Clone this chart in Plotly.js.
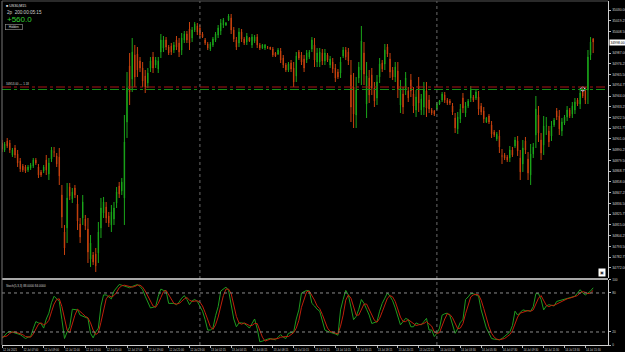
<!DOCTYPE html>
<html>
<head>
<meta charset="utf-8">
<script src="https://cdn.plot.ly/plotly-3.0.1.min.js"></script>
<style>html,body{margin:0;padding:0;background:#000;}#chart{width:625px;height:352px;}</style>
</head>
<body>
<div id="chart"></div>
<script>
// ---- price data (US30, M15) ----
const openP = [
34897,34890,34899,34897,34885,34892,34886,34879,34874,34873,
34870,34872,34874,34880,34873,34868,34869,34880,34866,34881,
34888,34884,34883,34845,34808,34812,34853,34841,34852,34836,
34816,34822,34821,34811,34781,34785,34786,34787,34812,34827,
34833,34824,34815,34821,34837,34854,34849,34842,34918,34974,
34961,34985,34986,34979,34972,34964,34957,34972,34983,34975,
34971,34988,34992,35000,34993,34994,34990,35000,34997,34990,
35000,35006,35011,35002,35010,35014,35012,35006,35000,34996,
34991,34995,35000,35005,35009,35015,35015,35020,35022,35010,
35000,34997,35008,35001,34998,35002,34995,34999,35003,34995,
34992,34992,34993,34993,34991,34987,34986,34989,34982,34975,
34970,34977,34972,34964,34988,34985,34981,34980,34983,34991,
34995,34978,34978,34987,34979,34985,34975,34978,34972,34968,
34967,34984,34990,34988,34965,34953,34925,34962,34970,34987,
34936,34962,34965,34952,34942,34963,34977,34976,34993,34981,
34970,34963,34969,34935,34946,34951,34949,34960,34946,34930,
34954,34930,34933,34949,34940,34930,34929,34931,34936,34940,
34945,34940,34939,34934,34922,34911,34921,34942,34927,34934,
34942,34943,34942,34943,34934,34929,34918,34924,34915,34908,
34901,34904,34884,34885,34883,34882,34890,34894,34899,34882,
34876,34899,34881,34865,34886,34905,34925,34900,34895,34914,
34909,34904,34915,34929,34924,34909,34917,34923,34930,34926,
34930,34940,34936,34950,34949,34950,34985,35001];
const highP = [
34900,34898,34902,34900,34892,34895,34890,34882,34876,34875,
34875,34877,34882,34882,34876,34870,34875,34885,34882,34893,
34893,34887,34892,34855,34815,34857,34857,34852,34855,34845,
34822,34845,34825,34822,34805,34788,34792,34818,34842,34843,
34838,34828,34835,34838,34853,34858,34862,34925,34968,34987,
35002,34995,34993,34983,34978,34970,34972,34983,34988,34983,
34983,35006,35004,35003,34995,34997,34998,35004,35002,35007,
35009,35009,35018,35013,35018,35017,35015,35008,35002,34998,
34998,35003,35008,35015,35021,35022,35018,35026,35026,35013,
35003,35012,35011,35003,35007,35003,35006,35005,35006,34997,
34996,34996,34994,34993,34993,34988,34992,34992,34985,34977,
34978,34980,34978,34988,34990,34988,34985,34990,34990,35003,
35002,34992,34992,34991,34991,34987,34984,34982,34976,34971,
34983,34993,34993,34992,34980,34967,34963,34978,35014,34998,
34978,34970,34972,34958,34965,34982,34980,34996,34996,34987,
34973,34978,34978,34960,34953,34968,34953,34966,34953,34950,
34963,34946,34958,34958,34945,34932,34930,34938,34940,34948,
34948,34942,34941,34937,34927,34928,34936,34947,34938,34941,
34954,34945,34950,34949,34937,34933,34923,34926,34919,34910,
34908,34910,34891,34887,34885,34894,34893,34903,34904,34890,
34900,34903,34888,34896,34897,34944,34934,34907,34924,34923,
34914,34919,34922,34932,34930,34922,34925,34934,34932,34938,
34942,34942,34952,34952,34953,34990,35003,35002];
const lowP = [
34888,34888,34892,34887,34883,34882,34873,34868,34868,34867,
34868,34870,34872,34875,34862,34863,34867,34865,34860,34878,
34883,34873,34855,34812,34785,34797,34840,34837,34842,34810,
34797,34815,34810,34777,34773,34775,34768,34777,34802,34822,
34817,34813,34808,34815,34832,34842,34845,34815,34902,34935,
34948,34953,34963,34968,34953,34947,34952,34968,34967,34972,
34967,34982,34988,34990,34985,34985,34987,34990,34983,34985,
34997,34997,34990,34998,35008,35005,35002,35002,34995,34990,
34989,34993,34998,35002,35005,35012,35014,35019,35006,34998,
34990,34993,34998,34995,34995,34998,34992,34997,34992,34990,
34991,34990,34991,34990,34983,34983,34985,34977,34972,34968,
34968,34968,34953,34958,34980,34975,34968,34977,34981,34988,
34973,34973,34973,34975,34975,34978,34972,34967,34958,34961,
34962,34982,34980,34975,34918,34912,34912,34957,34955,34955,
34922,34937,34945,34933,34935,34957,34968,34970,34983,34962,
34960,34958,34942,34927,34926,34945,34938,34943,34927,34923,
34928,34925,34925,34923,34927,34925,34924,34930,34935,34938,
34937,34935,34935,34925,34907,34906,34917,34927,34923,34932,
34938,34938,34940,34925,34925,34917,34917,34916,34902,34903,
34899,34887,34876,34880,34878,34878,34883,34892,34884,34860,
34868,34886,34860,34855,34882,34892,34898,34880,34885,34905,
34893,34899,34913,34920,34905,34904,34915,34919,34922,34922,
34926,34934,34931,34942,34936,34936,34980,34987];
const closeP = [
34891,34896,34894,34890,34890,34885,34877,34871,34870,34869,
34873,34875,34880,34877,34865,34865,34873,34870,34877,34890,
34888,34876,34864,34823,34792,34842,34844,34848,34845,34819,
34803,34838,34814,34788,34797,34778,34774,34808,34832,34838,
34822,34817,34828,34832,34848,34846,34858,34898,34952,34948,
34988,34963,34970,34972,34959,34953,34967,34979,34972,34980,
34979,35000,35000,34993,34987,34988,34995,34993,34988,35002,
35006,35000,34997,35010,35016,35008,35005,35003,34997,34992,
34996,35001,35006,35012,35017,35020,35017,35024,35010,35001,
34993,35008,35001,34997,35004,34999,35003,35003,34995,34992,
34995,34995,34993,34991,34985,34984,34990,34980,34975,34970,
34976,34971,34958,34984,34982,34978,34972,34987,34988,35000,
34980,34987,34988,34979,34987,34980,34981,34971,34962,34963,
34978,34990,34983,34979,34933,34926,34950,34973,34999,34966,
34964,34945,34952,34939,34958,34976,34971,34990,34986,34968,
34963,34973,34951,34952,34933,34962,34942,34949,34934,34943,
34937,34941,34950,34932,34931,34927,34926,34936,34939,34946,
34940,34937,34937,34928,34912,34923,34931,34932,34934,34939,
34950,34940,34948,34931,34928,34921,34922,34918,34906,34905,
34906,34893,34884,34882,34880,34890,34885,34900,34889,34868,
34892,34890,34867,34886,34893,34931,34907,34887,34914,34914,
34898,34914,34920,34923,34911,34918,34923,34930,34924,34934,
34938,34936,34947,34944,34940,34983,34998,34998];

// ---- Stochastic (5,3,3) ----
const stochK = [
10,14,19,21,20,19,18,16,13,10,
12,13,25,36,34,33,26,40,49,65,
75,71,67,39,10,20,28,55,55,54,
46,44,42,41,18,11,20,26,60,77,
77,74,71,83,88,93,92,91,90,88,
90,92,93,90,85,75,66,57,58,59,
75,86,84,83,64,64,64,62,66,72,
76,70,62,68,70,67,60,52,39,23,
23,26,45,59,83,86,89,84,64,40,
28,34,34,33,30,26,33,40,25,5,
6,8,9,10,9,8,12,16,12,10,
18,19,20,40,54,80,82,84,83,64,
60,55,52,35,23,21,20,18,17,15,
54,70,84,77,55,39,44,55,70,64,
55,46,33,35,36,52,64,72,80,75,
68,57,42,31,36,41,39,28,28,34,
32,31,36,41,23,23,13,18,26,46,
48,49,45,33,18,25,35,39,70,74,
79,79,77,75,54,40,26,18,10,9,
8,8,10,13,16,20,30,52,46,50,
54,53,52,52,59,79,79,70,54,60,
62,61,60,67,68,70,71,72,73,74,
75,80,85,80,77,80,83,88];
const stochD = [
12,13,14,18,20,20,19,18,16,13,
12,12,17,25,32,34,31,33,38,51,
63,70,71,59,39,23,19,34,46,55,
52,48,44,42,34,23,16,19,35,54,
71,76,74,76,81,88,91,92,91,90,
89,90,92,92,89,83,75,66,60,58,
64,73,82,84,77,70,64,63,64,67,
71,73,69,67,67,68,66,60,50,38,
28,24,31,43,62,76,86,86,79,63,
44,34,32,34,32,30,30,33,33,23,
12,6,8,9,9,9,10,12,13,13,
13,16,19,26,38,58,72,82,83,77,
69,60,56,47,37,26,21,20,18,17,
29,46,69,77,72,57,46,46,56,63,
63,55,45,38,35,41,51,63,72,76,
74,67,56,43,36,36,39,36,32,30,
31,32,33,36,33,29,20,18,19,30,
40,48,47,42,32,25,26,33,48,61,
74,77,78,77,69,56,40,28,18,12,
9,8,9,10,13,16,22,34,43,49,
50,52,53,52,54,63,72,76,68,61,
59,61,61,63,65,68,70,71,72,73,
74,76,80,82,81,79,80,84];
const stochLevels = [20, 80];

// ---- axis labels ----
const priceTicks = [35030.00,35019.25,35008.50,34987.00,34976.25,34965.50,34954.75,34944.00,34933.25,34922.50,
34911.75,34901.00,34890.25,34879.50,34868.75,34858.00,34847.25,34836.50,34825.75,34815.00,34804.25,34793.50,34782.75,34772.00];
const timeTickBars = [0,8,16,24,32,40,48,56,64,72,80,88,96,104,112,120,128,136,144,152,160,168,176,184,192,200,208,216,224];
const timeTickLabels = ["12 Jul 2021","12 Jul 07:00","12 Jul 09:00","12 Jul 11:00","12 Jul 13:00","12 Jul 15:00","12 Jul 17:00","12 Jul 19:00","12 Jul 21:00","12 Jul 23:00",
"13 Jul 02:15","13 Jul 04:15","13 Jul 06:15","13 Jul 08:15","13 Jul 10:15","13 Jul 12:15","13 Jul 14:15","13 Jul 16:15","13 Jul 18:15","13 Jul 20:15","13 Jul 22:15",
"14 Jul 01:30","14 Jul 03:30","14 Jul 05:30","14 Jul 07:30","14 Jul 09:30","14 Jul 11:30","14 Jul 13:30","14 Jul 15:30"];
const daySeparatorBars = [76, 167];
const levelLineA = 34953;   // red dash-dot
const levelLineB = 34950.5; // green dash-dot
const markerBar = [223];
const markerPrice = [34951];
const profitText = "+560.0";

const idx = closeP.map((_, i) => i);
const lastClose = closeP[closeP.length - 1];
const lastK = stochK[stochK.length - 1], lastD = stochD[stochD.length - 1];

const GREEN = '#1aa61a', RED = '#c8420e';
const FONT = 'Liberation Sans, DejaVu Sans, sans-serif';

const traces = [
  {
    type: 'candlestick', x: idx, open: openP, high: highP, low: lowP, close: closeP,
    xaxis: 'x', yaxis: 'y', whiskerwidth: 0,
    increasing: {line: {color: GREEN, width: 1}, fillcolor: GREEN},
    decreasing: {line: {color: RED, width: 1}, fillcolor: RED},
    hoverinfo: 'skip'
  },
  {
    type: 'scatter', mode: 'markers', x: markerBar, y: markerPrice, xaxis: 'x', yaxis: 'y',
    marker: {symbol: 'circle-open', size: 4, color: '#b8d8ff', line: {width: 1}}, hoverinfo: 'skip'
  },
  {
    type: 'scatter', mode: 'lines', x: idx, y: stochK, xaxis: 'x', yaxis: 'y2',
    line: {color: '#1f9a1f', width: 1}, hoverinfo: 'skip'
  },
  {
    type: 'scatter', mode: 'lines', x: idx, y: stochD, xaxis: 'x', yaxis: 'y2',
    line: {color: '#c0200c', width: 1}, hoverinfo: 'skip'
  }
];

const shapes = [];
daySeparatorBars.forEach(b => shapes.push({type: 'line', xref: 'x', yref: 'paper', x0: b, x1: b, y0: 0, y1: 1,
  line: {color: '#6a6a6a', width: 1, dash: 'dot'}}));
shapes.push({type: 'line', xref: 'paper', yref: 'y', x0: 0, x1: 1, y0: levelLineA, y1: levelLineA, line: {color: '#a81414', width: 1, dash: 'dashdot'}});
shapes.push({type: 'line', xref: 'paper', yref: 'y', x0: 0, x1: 1, y0: levelLineB, y1: levelLineB, line: {color: '#168c16', width: 1, dash: 'dashdot'}});
stochLevels.forEach(v => shapes.push({type: 'line', xref: 'paper', yref: 'y2', x0: 0, x1: 1, y0: v, y1: v,
  line: {color: '#8a8a8a', width: 1, dash: 'dot'}}));
shapes.push({type: 'line', xref: 'paper', yref: 'paper', x0: 0, x1: 1, y0: 0.1919, y1: 0.1919, line: {color: '#e0e0e0', width: 1.6}});
shapes.push({type: 'line', xref: 'paper', yref: 'paper', x0: 0, x1: 0, y0: 0, y1: 1, line: {color: '#777', width: 1}});
shapes.push({type: 'line', xref: 'paper', yref: 'paper', x0: 0, x1: 1, y0: 1, y1: 1, line: {color: '#555', width: 1}});

const annotations = [
  {xref: 'paper', yref: 'paper', x: 0, y: 1, xanchor: 'left', yanchor: 'top', xshift: 2, yshift: -1,
   text: '\u25A0 US30,M15', showarrow: false, font: {family: FONT, size: 3.6, color: '#e0e0e0'}},
  {xref: 'paper', yref: 'paper', x: 0, y: 1, xanchor: 'left', yanchor: 'top', xshift: 3, yshift: -7,
   text: '2p  200:00:05:15', showarrow: false, font: {family: FONT, size: 4.6, color: '#cfcfcf'}},
  {xref: 'paper', yref: 'paper', x: 0, y: 1, xanchor: 'left', yanchor: 'top', xshift: 3, yshift: -12,
   text: profitText, showarrow: false, font: {family: FONT, size: 8, color: '#33d233'}},
  {xref: 'paper', yref: 'paper', x: 0, y: 1, xanchor: 'left', yanchor: 'top', xshift: 3, yshift: -23,
   text: '   Hidden   ', showarrow: false, bordercolor: '#9a9a9a', borderwidth: 0.6, borderpad: 0.5,
   font: {family: FONT, size: 3.2, color: '#dcdcdc'}},
  {xref: 'paper', yref: 'y', x: 0, y: levelLineA, xanchor: 'left', yanchor: 'bottom', xshift: 2, yshift: -1,
   text: levelLineA.toFixed(2) + ' \u2014 1.18', showarrow: false, font: {family: FONT, size: 3, color: '#d0d0d0'}},
  {xref: 'paper', yref: 'y', x: 1, y: lastClose, xanchor: 'left', yanchor: 'middle', xshift: 1,
   text: lastClose.toFixed(2), showarrow: false, bgcolor: '#ffffff', borderpad: 0.5,
   font: {family: FONT, size: 3.4, color: '#000'}},
  {xref: 'paper', yref: 'paper', x: 0, y: 0.189, xanchor: 'left', yanchor: 'top', xshift: 2, yshift: -2,
   text: 'Stoch(5,3,3) ' + lastK.toFixed(4) + ' ' + lastD.toFixed(4), showarrow: false,
   font: {family: FONT, size: 3, color: '#d0d0d0'}},
  {xref: 'paper', yref: 'paper', x: 1, y: 0.1919, xanchor: 'right', yanchor: 'bottom', xshift: -2, yshift: 2,
   text: '\u25A3', showarrow: false, bgcolor: '#ffffff', font: {family: FONT, size: 4, color: '#333'}}
];

const layout = {
  width: 625, height: 352,
  margin: {l: 2, r: 17, t: 1, b: 7, pad: 0},
  paper_bgcolor: '#000', plot_bgcolor: '#000',
  showlegend: false, hovermode: false, boxgap: 0.75,
  xaxis: {
    range: [0, 232.7], anchor: 'y2', showgrid: false, zeroline: false,
    rangeslider: {visible: false},
    tickmode: 'array', tickvals: timeTickBars, ticktext: timeTickLabels,
    ticks: 'outside', ticklen: 1.5, tickcolor: '#bbb', ticklabelshift: 8, ticklabelstandoff: 0,
    tickfont: {family: FONT, size: 2.7, color: '#d0d0d0'},
    showline: true, linecolor: '#cfcfcf', linewidth: 1
  },
  yaxis: {
    domain: [0.1948, 1], range: [34762, 35039], side: 'right', anchor: 'x',
    showgrid: false, zeroline: false,
    tickmode: 'array', tickvals: priceTicks, ticktext: priceTicks.map(v => v.toFixed(2)),
    ticks: 'outside', ticklen: 1.5, tickcolor: '#bbb', ticklabelstandoff: 1,
    tickfont: {family: FONT, size: 3.4, color: '#d0d0d0'},
    showline: true, linecolor: '#cfcfcf', linewidth: 1
  },
  yaxis2: {
    domain: [0, 0.189], range: [0, 100], side: 'right', anchor: 'x',
    showgrid: false, zeroline: false,
    tickmode: 'array', tickvals: [0, 20, 80, 100], ticktext: ['0', '20', '80', '100'],
    ticks: 'outside', ticklen: 1.5, tickcolor: '#bbb', ticklabelstandoff: 1,
    tickfont: {family: FONT, size: 3.2, color: '#d0d0d0'},
    showline: true, linecolor: '#cfcfcf', linewidth: 1
  },
  shapes: shapes,
  annotations: annotations
};

Plotly.newPlot('chart', traces, layout, {displayModeBar: false, staticPlot: true});
</script>
</body>
</html>
